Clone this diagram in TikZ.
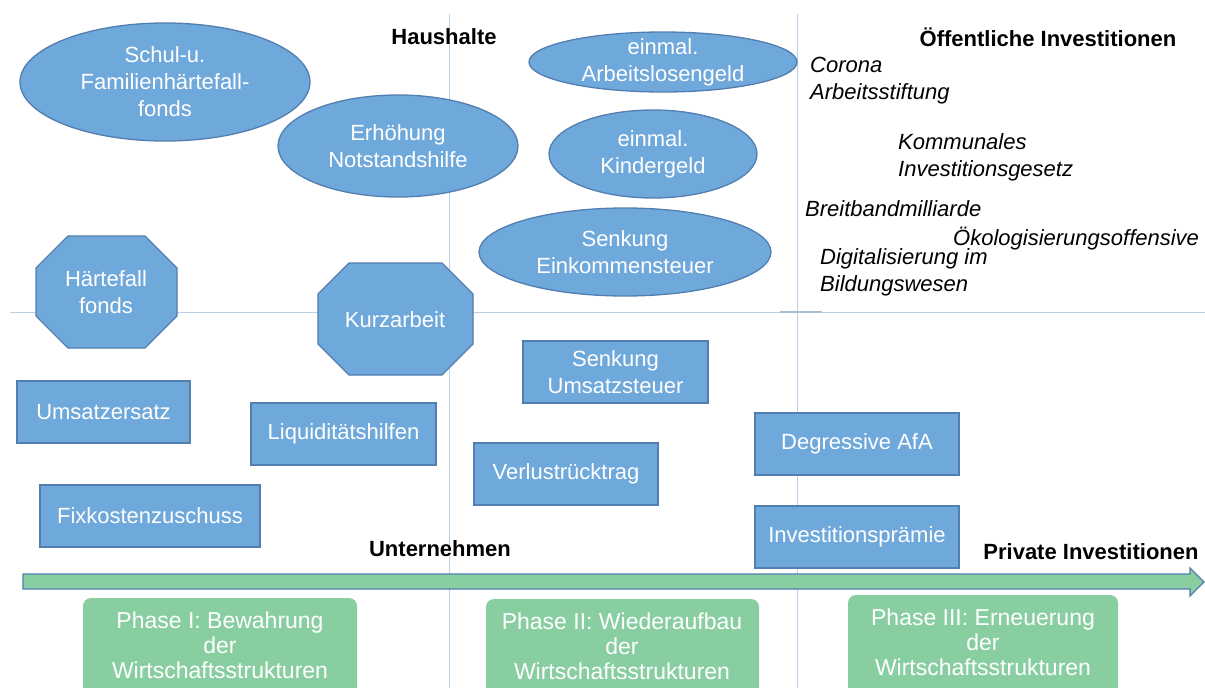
\documentclass[tikz,border=0pt]{standalone}
\usepackage{fontspec}
\setmainfont{Liberation Sans}
\usetikzlibrary{positioning}

\definecolor{fillblue}{RGB}{111,168,218}
\definecolor{bordblue}{RGB}{82,126,176}
\definecolor{lineblue}{RGB}{186,208,232}
\definecolor{phasegreen}{RGB}{136,206,161}

\begin{document}
\begin{tikzpicture}[x=1pt,y=-1pt,
  kasten/.style={draw=bordblue, fill=fillblue, line width=1.3pt, text=white,
    align=center, inner sep=0pt, font=\fontsize{22}{27}\selectfont},
  blob/.style={draw=bordblue, fill=fillblue, line width=1.3pt},
  weiss/.style={text=white, align=center, inner sep=0pt, font=\fontsize{22}{27}\selectfont},
  titel/.style={inner sep=0pt, font=\bfseries\fontsize{22}{26}\selectfont},
  massnahme/.style={inner sep=0pt, anchor=west, align=left, font=\itshape\fontsize{22}{27}\selectfont},
  phasetext/.style={text=white, align=center, inner sep=0pt, font=\fontsize{23}{25}\selectfont},
  achse/.style={lineblue, line width=1pt}]
\clip (0,0) rectangle (1205,688);
\fill[white] (0,0) rectangle (1205,688);

% Achsen
\coordinate (v1o) at (449,14); \coordinate (v1u) at (449,688);
\coordinate (v2o) at (797,14); \coordinate (v2u) at (797,688);
\coordinate (hl) at (10,312); \coordinate (hr) at (1205,312);
\draw[achse] (v1o) -- (v1u);
\draw[achse] (v2o) -- (v2u);
\draw[achse] (hl) -- (hr);
\coordinate (ml) at (780,312); \coordinate (mr) at (822,312);
\draw[bordblue!50, line width=1.2pt] (ml) -- (mr);

% Ueberschriften
\node[titel] (hh) at (444,37) {Haushalte};
\node[titel] (oi) at (1048,37) {Öffentliche Investitionen};
\node[titel] (un) at (440,549) {Unternehmen};
\node[titel] (pi) at (1091,552) {Private Investitionen};

% Haushalte
\draw[blob] (165,82) ellipse (145 and 59);
\node[weiss] (schul) at (165,82) {Schul-u.\\Familienhärtefall-\\fonds};
\draw[blob] (398,146) ellipse (120 and 51);
\node[weiss] (noth) at (398,146) {Erhöhung\\Notstandshilfe};
\draw[blob] (663,62) ellipse (134 and 30);
\node[weiss] (alg) at (663,62) {einmal.\\Arbeitslosengeld};
\draw[blob] (653,154) ellipse (104 and 44);
\node[weiss] (kind) at (653,154) {einmal.\\Kindergeld};
\draw[blob] (625,252) ellipse (146 and 44);
\node[weiss] (est) at (625,252) {Senkung\\Einkommensteuer};

% Achtecke
\draw[blob] (36,268) -- (68,236) -- (145,236) -- (177,268) -- (177,316)
  -- (145,348) -- (68,348) -- (36,316) -- cycle;
\node[weiss] (hfonds) at (106,292) {Härtefall\\fonds};
\draw[blob] (318,294) -- (349,263) -- (442,263) -- (473,294) -- (473,344)
  -- (442,375) -- (349,375) -- (318,344) -- cycle;
\node[weiss] (kurz) at (395,320) {Kurzarbeit};

% Unternehmen
\node[kasten, minimum width=173pt, minimum height=62pt] (umsatz) at (103.5,412) {Umsatzersatz};
\node[kasten, minimum width=185pt, minimum height=62pt] (liqui) at (343.5,434) {Liquiditätshilfen};
\node[kasten, minimum width=220pt, minimum height=62pt] (fix) at (150,516) {Fixkostenzuschuss};
\node[kasten, minimum width=185pt, minimum height=62pt] (ust) at (615.5,372) {Senkung\\Umsatzsteuer};
\node[kasten, minimum width=184pt, minimum height=62pt] (verl) at (566,474) {Verlustrücktrag};
\node[kasten, minimum width=204pt, minimum height=62pt] (afa) at (857,444) {Degressive AfA};
\node[kasten, minimum width=204pt, minimum height=62pt] (praem) at (857,537) {Investitionsprämie};

% Oeffentliche Investitionen
\node[massnahme] (corona) at (810,81) {Corona\\Arbeitsstiftung};
\node[massnahme] (kig) at (898,157) {Kommunales\\Investitionsgesetz};
\node[massnahme] (breit) at (805,209) {Breitbandmilliarde};
\node[massnahme] (oeko) at (953,239) {Ökologisierungsoffensive};
\node[massnahme] (digi) at (820,272) {Digitalisierung im\\Bildungswesen};

% Zeitachse
\draw[fill=phasegreen, draw=bordblue, line width=1.3pt] (23,574) -- (1190,574) -- (1190,568)
  -- (1204,582) -- (1190,596) -- (1190,589) -- (23,589) -- cycle;

% Phasen
\fill[phasegreen, rounded corners=8pt] (83,598) rectangle (357,720);
\node[phasetext] (ph1) at (220,645) {Phase I: Bewahrung\\der\\Wirtschaftsstrukturen};
\fill[phasegreen, rounded corners=8pt] (486,599) rectangle (759,720);
\node[phasetext] (ph2) at (622,646) {Phase II: Wiederaufbau\\der\\Wirtschaftsstrukturen};
\fill[phasegreen, rounded corners=8pt] (848,595) rectangle (1118,720);
\node[phasetext] (ph3) at (983,642) {Phase III: Erneuerung\\der\\Wirtschaftsstrukturen};
\end{tikzpicture}
\end{document}
